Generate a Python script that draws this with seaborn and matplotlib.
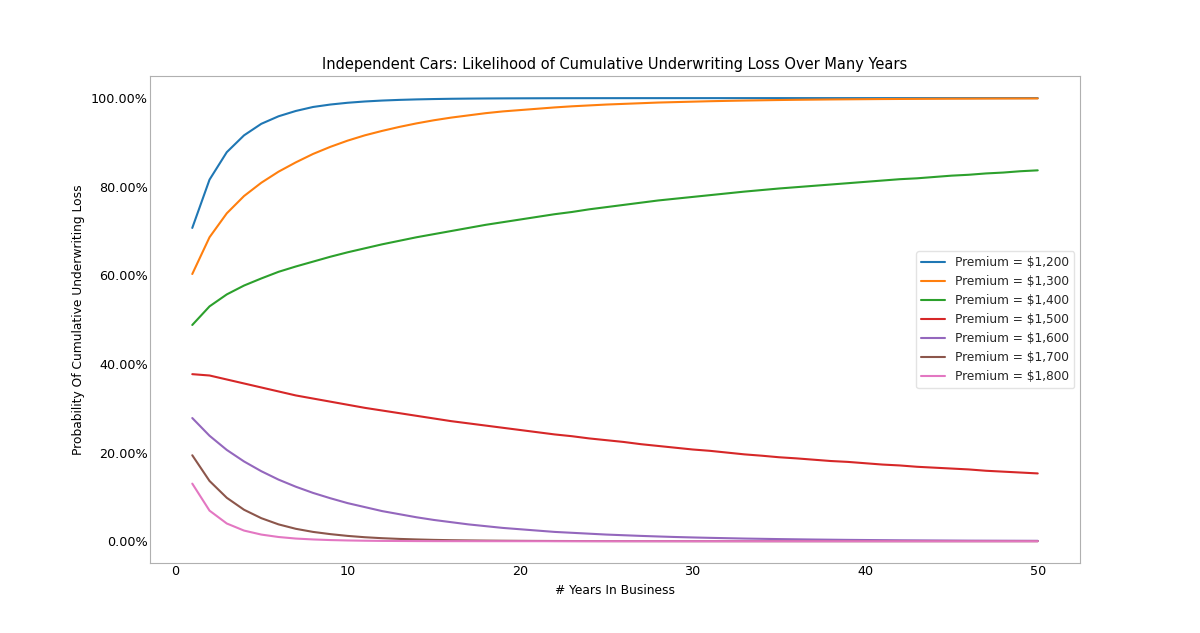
import seaborn as sns
import matplotlib.pyplot as plt
import pandas as pd
import numpy as np
from matplotlib.ticker import PercentFormatter

# values, in percent
years = list(range(1, 51))

premiums = ["$1,200", "$1,300", "$1,400", "$1,500", "$1,600", "$1,700", "$1,800"]

p1200 = [70.7, 81.6, 87.8, 91.6, 94.2, 95.9, 97.1, 98.0, 98.55, 98.95,
         99.24, 99.45, 99.60, 99.71, 99.79, 99.85, 99.89, 99.92, 99.94, 99.955,
         99.967, 99.976, 99.982, 99.987, 99.99, 99.993, 99.995, 99.996, 99.997, 99.998,
         99.998, 99.999, 99.999, 99.999, 99.999, 100.0, 100.0, 100.0, 100.0, 100.0,
         100.0, 100.0, 100.0, 100.0, 100.0, 100.0, 100.0, 100.0, 100.0, 100.0]
p1300 = [60.3, 68.6, 74.0, 77.9, 80.9, 83.4, 85.5, 87.4, 89.0, 90.4,
         91.6, 92.6, 93.5, 94.3, 95.0, 95.6, 96.1, 96.6, 97.0, 97.3,
         97.6, 97.9, 98.15, 98.35, 98.55, 98.7, 98.85, 99.0, 99.1, 99.2,
         99.3, 99.38, 99.45, 99.51, 99.57, 99.62, 99.66, 99.70, 99.73, 99.76,
         99.79, 99.81, 99.83, 99.85, 99.87, 99.88, 99.90, 99.91, 99.92, 99.93]
p1400 = [48.8, 53.0, 55.7, 57.7, 59.3, 60.8, 62.0, 63.1, 64.2, 65.2,
         66.1, 67.0, 67.8, 68.6, 69.3, 70.0, 70.7, 71.4, 72.0, 72.6,
         73.2, 73.8, 74.3, 74.9, 75.4, 75.9, 76.4, 76.9, 77.3, 77.7,
         78.1, 78.5, 78.9, 79.25, 79.6, 79.9, 80.2, 80.5, 80.8, 81.1,
         81.4, 81.7, 81.9, 82.2, 82.5, 82.7, 83.0, 83.2, 83.5, 83.7]
p1500 = [37.7, 37.4, 36.5, 35.6, 34.7, 33.8, 32.9, 32.2, 31.5, 30.8,
         30.1, 29.5, 28.9, 28.3, 27.7, 27.1, 26.6, 26.1, 25.6, 25.1,
         24.6, 24.1, 23.7, 23.2, 22.8, 22.4, 21.9, 21.5, 21.1, 20.7,
         20.4, 20.0, 19.6, 19.3, 18.95, 18.7, 18.4, 18.1, 17.9, 17.6,
         17.3, 17.1, 16.8, 16.6, 16.4, 16.2, 15.9, 15.7, 15.5, 15.3]
p1600 = [27.8, 23.8, 20.6, 18.0, 15.8, 13.9, 12.3, 10.9, 9.7, 8.6,
         7.7, 6.8, 6.1, 5.4, 4.8, 4.3, 3.8, 3.4, 3.0, 2.7,
         2.4, 2.1, 1.9, 1.7, 1.5, 1.35, 1.2, 1.07, 0.95, 0.85,
         0.76, 0.68, 0.6, 0.54, 0.48, 0.43, 0.38, 0.34, 0.3, 0.27,
         0.24, 0.21, 0.19, 0.17, 0.15, 0.13, 0.12, 0.11, 0.10, 0.09]
p1700 = [19.4, 13.6, 9.8, 7.1, 5.2, 3.8, 2.8, 2.1, 1.6, 1.2,
         0.9, 0.68, 0.52, 0.40, 0.30, 0.23, 0.18, 0.14, 0.11, 0.085,
         0.066, 0.051, 0.04, 0.031, 0.024, 0.019, 0.015, 0.012, 0.009, 0.007,
         0.005, 0.004, 0.003, 0.002, 0.002, 0.001, 0.001, 0.001, 0.0, 0.0,
         0.0, 0.0, 0.0, 0.0, 0.0, 0.0, 0.0, 0.0, 0.0, 0.0]
p1800 = [13.0, 6.9, 4.0, 2.4, 1.5, 0.95, 0.6, 0.4, 0.26, 0.17,
         0.11, 0.07, 0.05, 0.03, 0.02, 0.013, 0.009, 0.006, 0.004, 0.003,
         0.002, 0.001, 0.001, 0.0, 0.0, 0.0, 0.0, 0.0, 0.0, 0.0,
         0.0, 0.0, 0.0, 0.0, 0.0, 0.0, 0.0, 0.0, 0.0, 0.0,
         0.0, 0.0, 0.0, 0.0, 0.0, 0.0, 0.0, 0.0, 0.0, 0.0]

series = [p1200, p1300, p1400, p1500, p1600, p1700, p1800]

rows = []
for prem, vals in zip(premiums, series):
    for yr, v in zip(years, vals):
        rows.append({"year": yr, "prob": v, "premium": "Premium = " + prem})
df = pd.DataFrame(rows)

sns.set_style("white")
plt.rcParams["font.family"] = ["DejaVu Sans"]

fig, ax = plt.subplots(figsize=(12, 6.33), dpi=100)
sns.lineplot(data=df, x="year", y="prob", hue="premium", palette="tab10",
             linewidth=1.5, ax=ax)

ax.yaxis.set_major_formatter(PercentFormatter(100, decimals=2))
ax.set_yticks([0, 20, 40, 60, 80, 100])
ax.set_xticks([0, 10, 20, 30, 40, 50])
ax.tick_params(labelsize=9.2, colors="black", pad=1.5, length=0)
ax.set_xlabel("# Years In Business", fontsize=8.8, color="black", labelpad=4)
ax.set_ylabel("Probability Of Cumulative Underwriting Loss", fontsize=8.8, color="black", labelpad=4)
ax.set_title("Independent Cars: Likelihood of Cumulative Underwriting Loss Over Many Years",
             fontsize=10.5, color="black", pad=5)
for s in ax.spines.values():
    s.set_color("#b0b0b0")

leg = ax.legend(loc="center right", fontsize=8.7, frameon=True)
leg.get_frame().set_edgecolor("#dddddd")

plt.savefig("out.png", dpi=100)
